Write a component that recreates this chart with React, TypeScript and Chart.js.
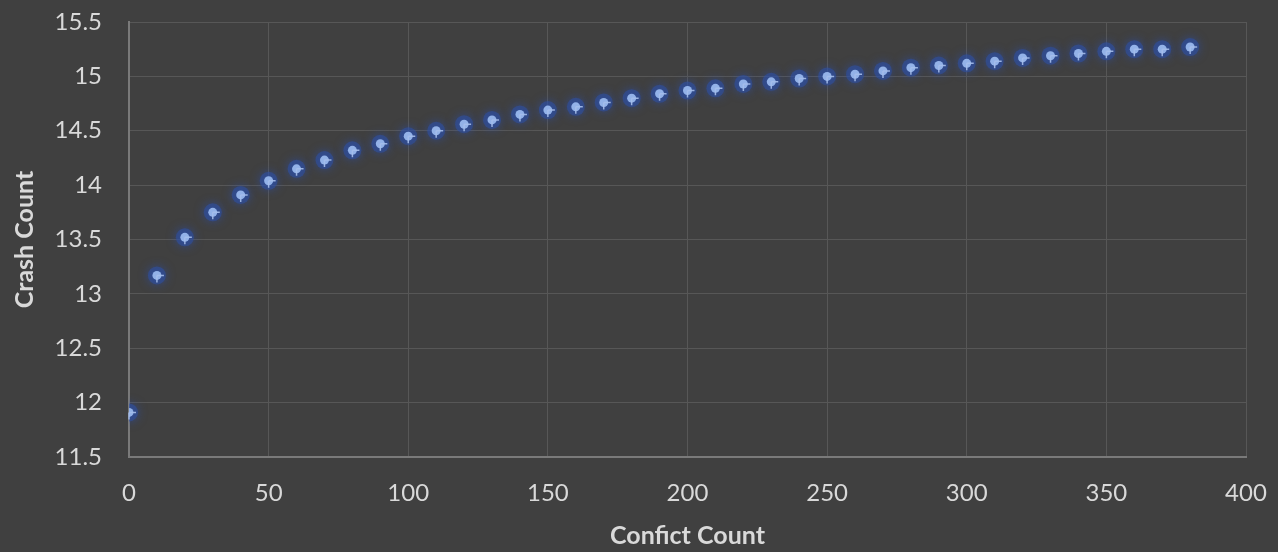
import React, { useEffect, useRef } from "react";
import { Chart, registerables } from "chart.js";

Chart.register(...registerables);

const conflictCounts = [
  0, 10, 20, 30, 40, 50, 60, 70, 80, 90, 100, 110, 120, 130, 140, 150, 160, 170, 180, 190,
  200, 210, 220, 230, 240, 250, 260, 270, 280, 290, 300, 310, 320, 330, 340, 350, 360, 370, 380,
];
const crashCounts = [
  11.91, 13.17, 13.52, 13.75, 13.91, 14.04, 14.15, 14.23, 14.32, 14.38, 14.45, 14.5, 14.56,
  14.6, 14.65, 14.69, 14.72, 14.76, 14.8, 14.84, 14.87, 14.89, 14.93, 14.95, 14.98, 15.0,
  15.02, 15.05, 15.08, 15.1, 15.12, 15.14, 15.17, 15.19, 15.21, 15.23, 15.25, 15.25, 15.27,
];
const xTicks = [0, 50, 100, 150, 200, 250, 300, 350, 400];
const yTicks = [11.5, 12, 12.5, 13, 13.5, 14, 14.5, 15, 15.5];
const xTitle = "Confict Count";
const yTitle = "Crash Count";

const glowPlugin = {
  id: "glow",
  beforeDatasetDraw(chart: any, args: any) {
    if (args.index !== 0) return;
    const ctx = chart.ctx;
    ctx.save();
    ctx.shadowColor = "rgba(40, 80, 190, 1)";
    ctx.shadowBlur = 10;
  },
  afterDatasetDraw(chart: any, args: any) {
    const ctx = chart.ctx;
    if (args.index === 0) {
      ctx.restore();
      return;
    }
    // tiny error-bar marks
    const meta = chart.getDatasetMeta(1);
    ctx.save();
    ctx.strokeStyle = "rgba(165, 190, 235, 0.9)";
    ctx.lineWidth = 1.5;
    meta.data.forEach((pt: any) => {
      ctx.beginPath();
      ctx.moveTo(pt.x, pt.y);
      ctx.lineTo(pt.x + 7, pt.y);
      ctx.moveTo(pt.x, pt.y);
      ctx.lineTo(pt.x, pt.y + 7);
      ctx.stroke();
    });
    ctx.restore();
  },
};

export default function App() {
  const ref = useRef<HTMLCanvasElement | null>(null);
  useEffect(() => {
    if (!ref.current) return;
    const points = conflictCounts.map((x, i) => ({ x, y: crashCounts[i] }));
    const chart = new Chart(ref.current, {
      type: "scatter",
      data: {
        datasets: [
          {
            data: points,
            backgroundColor: "rgba(45, 80, 165, 0.55)",
            borderWidth: 0,
            pointRadius: 9,
            pointHoverRadius: 9,
            order: 2,
          },
          {
            data: points,
            backgroundColor: "#93b2e8",
            borderWidth: 0,
            pointRadius: 4.5,
            pointHoverRadius: 4.5,
            order: 1,
          },
        ],
      },
      plugins: [glowPlugin],
      options: {
        animation: false,
        responsive: false,
        devicePixelRatio: 1,
        layout: { padding: { left: 0, top: 22, right: 32, bottom: 0 } },
        plugins: { legend: { display: false }, tooltip: { enabled: false } },
        scales: {
          x: {
            type: "linear",
            min: 0,
            max: 400,
            afterBuildTicks: (s: any) => {
              s.ticks = xTicks.map((v) => ({ value: v }));
            },
            afterFit: (s: any) => {
              s.height = 95;
              s.paddingLeft = 0;
              s.paddingRight = 0;
            },
            ticks: {
              color: "#d9d9d9",
              font: { family: "Lato", size: 24 },
              padding: 22,
              maxRotation: 0,
              callback: (v: any) => String(v),
            },
            grid: { color: "#575757", lineWidth: 1, drawTicks: false },
            border: { color: "#7a7a7a", width: 2 },
            title: {
              display: true,
              text: xTitle,
              color: "#d9d9d9",
              font: { family: "Lato", size: 25, weight: "bold" },
              padding: { top: 0, bottom: 1 },
            },
          },
          y: {
            type: "linear",
            min: 11.5,
            max: 15.5,
            afterBuildTicks: (s: any) => {
              s.ticks = yTicks.map((v) => ({ value: v }));
            },
            afterFit: (s: any) => {
              s.width = 129;
              s.paddingTop = 0;
              s.paddingBottom = 0;
            },
            ticks: {
              color: "#d9d9d9",
              font: { family: "Lato", size: 24 },
              padding: 27,
              callback: (v: any) => String(v),
            },
            grid: { color: "#575757", lineWidth: 1, drawTicks: false },
            border: { color: "#7a7a7a", width: 2 },
            title: {
              display: true,
              text: yTitle,
              color: "#d9d9d9",
              font: { family: "Lato", size: 25, weight: "bold" },
              padding: { top: 10, bottom: 0 },
            },
          },
        },
      },
    });
    return () => chart.destroy();
  }, []);
  return (
    <div
      style={{
        position: "fixed",
        left: 0,
        top: 0,
        width: 1278,
        height: 552,
        background: "#404040",
      }}
    >
      <canvas ref={ref} width={1278} height={552} style={{ display: "block" }} />
    </div>
  );
}
